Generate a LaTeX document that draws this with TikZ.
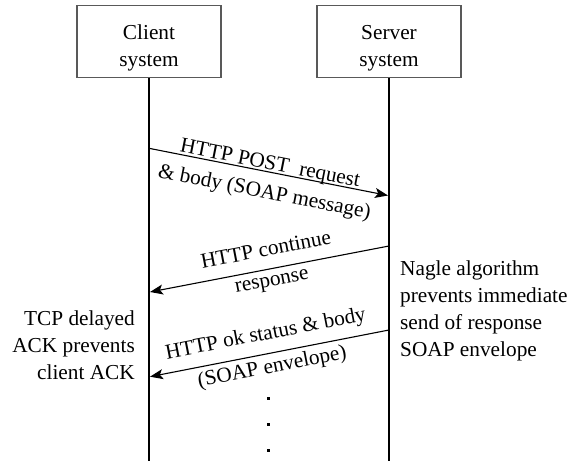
\documentclass[tikz,border=0pt]{standalone}
\usepackage{fontspec}
\setmainfont{Liberation Serif}
\usetikzlibrary{arrows.meta}

\begin{document}
\begin{tikzpicture}[x=1pt,y=-1pt,
  font=\fontsize{21.3}{26.8}\selectfont,
  sysbox/.style={draw=black!65, line width=1.4pt, minimum width=144pt, minimum height=72pt, align=center, inner sep=0pt},
  life/.style={black, line width=2pt},
  msg/.style={black, line width=1.1pt, -{Stealth[length=13pt,width=10pt,inset=3pt]}},
  uplbl/.style={sloped, above=#1, inner sep=0pt, text depth=0pt},
  lowlbl/.style={sloped, below=#1, inner sep=0pt, text height=0pt},
  note/.style={align=#1, inner sep=0pt},
  vdot/.style={fill=black, inner sep=0pt, minimum size=3pt}]
\useasboundingbox (0,0) rectangle (579,461);
\node [sysbox] (client) at (149,41.5) {\rule{0pt}{28pt}Client\\system};
\node [sysbox] (server) at (389,41.5) {\rule{0pt}{28pt}Server\\system};
\coordinate (cend) at (149,461);
\coordinate (send) at (389,461);
\draw [life] (client.south) -- (cend);
\draw [life] (server.south) -- (send);
\coordinate (post0) at (149,148.3);
\coordinate (post1) at (388,195.5);
\coordinate (cont0) at (389,246);
\coordinate (cont1) at (150,292);
\coordinate (ok0) at (389,330);
\coordinate (ok1) at (150,376.7);
\draw [msg] (post0) -- (post1)
  node [midway, uplbl=2pt] {HTTP POST~~request}
  node [midway, lowlbl=26pt] {\& body (SOAP message)};
\draw [msg] (cont0) -- (cont1)
  node [midway, uplbl=12.4pt] {HTTP continue}
  node [midway, lowlbl=16.7pt] {response};
\draw [msg] (ok0) -- (ok1)
  node [midway, uplbl=13.5pt] {HTTP ok status \& body}
  node [midway, lowlbl=19pt] {(SOAP envelope)};
\node [note=left, anchor=north west] (nagle) at (400,261) {Nagle algorithm\\prevents immediate\\send of response\\SOAP envelope};
\node [note=right, anchor=north east] (delack) at (135,311) {TCP delayed\\ACK prevents\\client ACK};
\node [vdot] (dot1) at (268.3,398.3) {};
\node [vdot] (dot2) at (268.3,424) {};
\node [vdot] (dot3) at (268.3,450) {};
\end{tikzpicture}
\end{document}
